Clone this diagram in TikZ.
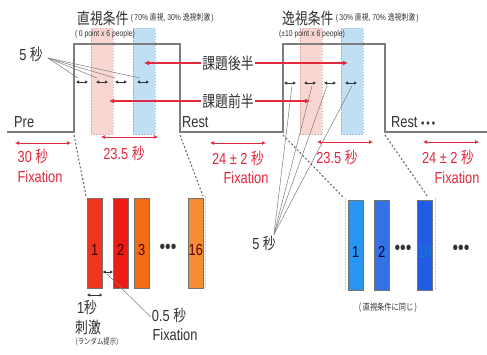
\documentclass[tikz,border=0pt]{standalone}
\usepackage{fontspec}
\setmainfont[FakeStretch=0.8]{Liberation Sans}
\newfontfamily\jp[FakeStretch=0.8]{Noto Sans CJK JP}
\usetikzlibrary{arrows.meta}
\newcommand\byo{{\jp 秒}}
\newcommand\fsz[1]{\fontsize{#1}{#1}\selectfont}
\definecolor{ink}{RGB}{50,50,50}
\definecolor{tlgray}{RGB}{125,125,125}
\definecolor{lblred}{RGB}{226,42,62}
\definecolor{pinkF}{RGB}{249,214,210}
\definecolor{pinkE}{RGB}{215,175,175}
\definecolor{blueF}{RGB}{192,223,245}
\definecolor{blueE}{RGB}{150,185,210}
\definecolor{rA}{RGB}{240,52,30}
\definecolor{rB}{RGB}{236,28,20}
\definecolor{rC}{RGB}{245,108,22}
\definecolor{rD}{RGB}{246,140,52}
\definecolor{bA}{RGB}{40,150,240}
\definecolor{bB}{RGB}{52,112,230}
\definecolor{bC}{RGB}{34,92,228}
\begin{document}
\begin{tikzpicture}[x=1pt,y=-1pt,
  every node/.style={inner sep=1pt,text=ink},
  tline/.style={draw=tlgray,line width=1.2pt},
  strip/.style={line width=0.6pt,dash pattern=on 1.5pt off 1.5pt},
  redarr/.style={color=lblred,line width=1pt,{Latex[length=4pt,width=4pt]}-{Latex[length=4pt,width=4pt]}},
  redlbl/.style={text=lblred,font=\fsz{16}},
  sarr/.style={color=ink,line width=0.7pt,{Latex[length=3pt,width=3.5pt]}-{Latex[length=3pt,width=3.5pt]}},
  fine/.style={draw=tlgray,line width=0.5pt},
  ptr/.style={draw=lblred,fill=lblred,line width=1.2pt,-{Latex[length=5pt,width=5pt]}},
  zoomline/.style={draw=tlgray!80!black,line width=1pt,dash pattern=on 2pt off 2pt},
  grpedge/.style={draw=black!20,line width=0.5pt,dash pattern=on 1.5pt off 1.5pt},
  bar/.style={draw=black!55,line width=0.5pt,minimum width=15pt,minimum height=90pt,inner sep=0pt,anchor=north west},
  num/.style={font=\fsz{16}}]
\useasboundingbox[fill=white] (0,0) rectangle (487,354);

% shaded task halves inside both condition blocks
\filldraw[strip,fill=pinkF,draw=pinkE] (91,28) rectangle (113,134);
\filldraw[strip,fill=blueF,draw=blueE] (133,28) rectangle (155,134);
\filldraw[strip,fill=pinkF,draw=pinkE] (300,28) rectangle (322,134);
\filldraw[strip,fill=blueF,draw=blueE] (341,28) rectangle (363,134);

% block timeline
\draw[tline] (7,132) -- (74,132) -- (74,44) -- (180,44) -- (180,132)
  -- (283,132) -- (283,44) -- (385,44) -- (385,132) -- (487,132);

% condition titles
\node[anchor=west,font=\jp\fsz{16}] (t1) at (76,18) {直視条件};
\node[anchor=west,font=\fsz{8.5}] (t1s) at (t1.east) {(\,70\% {\jp 直視}, 30\% {\jp 逸視刺激}\,)};
\node[anchor=west,font=\fsz{8.5}] (p1) at (74,34) {(\,0 point x 6 people)};
\node[anchor=west,font=\jp\fsz{16}] (t2) at (281,18) {逸視条件};
\node[anchor=west,font=\fsz{8.5}] (t2s) at (t2.east) {(\,30\% {\jp 直視}, 70\% {\jp 逸視刺激}\,)};
\node[anchor=west,font=\fsz{8.5}] (p2) at (278,34) {(±10 point x 6 people)};

% phase names
\node[anchor=west,font=\fsz{16}] (pre) at (13,122) {Pre};
\node[anchor=west,font=\fsz{16}] (rest1) at (181,122) {Rest};
\node[anchor=west,font=\fsz{16}] (rest2) at (390,122) {Rest {\fsz{12}\textbullet\,\textbullet\,\textbullet}};

% 5 s trial arrows
\foreach \i/\x in {1/82,2/102,3/121,4/143}{
  \coordinate (a\i) at (\x,82);
  \draw[sarr] ([xshift=-6pt]a\i) -- ([xshift=6pt]a\i);}
\foreach \i/\x in {1/290,2/310,3/330,4/351}{
  \coordinate (b\i) at (\x,83);
  \draw[sarr] ([xshift=-6pt]b\i) -- ([xshift=6pt]b\i);}
\node[font=\fsz{16}] (five1) at (31,54) {5 \byo};
\foreach \i/\dx in {1/-4,2/-5,3/-6,4/-3}
  \draw[fine] ([shift={(4,4)}]five1.east) -- ([shift={(\dx,-4)}]a\i);
\node[font=\fsz{16}] (five2) at (264,243) {5 \byo};
\foreach \i/\dx in {1/2,2/2,3/-3,4/1}
  \draw[fine] ([xshift=-3pt]five2.north east) -- ([shift={(\dx,3)}]b\i);

% task half pointers
\node[font=\jp\fsz{16}] (late) at (228,63) {課題後半};
\node[font=\jp\fsz{16}] (early) at (228,101) {課題前半};
\coordinate (lateL) at (144,63);
\coordinate (lateR) at (348,63);
\coordinate (earlyL) at (109,101);
\coordinate (earlyR) at (310,101);
\draw[ptr] (late.west) -- (lateL);
\draw[ptr] (late.east) -- (lateR);
\draw[ptr] (early.west) -- (earlyL);
\draw[ptr] (early.east) -- (earlyR);

% durations
\coordinate (d1a) at (15,143); \coordinate (d1b) at (71,143);
\coordinate (d2a) at (101,137); \coordinate (d2b) at (158,137);
\coordinate (d3a) at (210,143); \coordinate (d3b) at (266,143);
\coordinate (d4a) at (317,142); \coordinate (d4b) at (373,142);
\coordinate (d5a) at (423,142); \coordinate (d5b) at (479,142);
\foreach \k in {1,...,5} \draw[redarr] (d\k a) -- (d\k b);
\node[redlbl] (l1) at (33,156) {30 \byo};
\node[redlbl] (f1) at (40,177) {Fixation};
\node[redlbl] (l2) at (124,153) {23.5 \byo};
\node[redlbl] (l3) at (238,158) {24 ± 2 \byo};
\node[redlbl] (f3) at (246,178) {Fixation};
\node[redlbl] (l4) at (337,157) {23.5 \byo};
\node[redlbl] (l5) at (448,157) {24 ± 2 \byo};
\node[redlbl] (f5) at (457,178) {Fixation};

% expansion lines to trial sequences
\draw[zoomline] (74,135) -- (86,196);
\draw[zoomline] (180,135) -- (203,196);
\draw[zoomline] (283,135) -- (343,197);
\draw[zoomline] (385,135) -- (428,197);

% trial sequence: direct gaze block
\draw[grpedge] (205,196) -- (205,290);
\node[bar,fill=rA,label={[num,text=black!75!red,yshift=-7pt]center:1}] (r1) at (87,198) {};
\node[bar,fill=rB,label={[num,text=black!75!red,yshift=-7pt]center:2}] (r2) at (113,198) {};
\node[bar,fill=rC,label={[num,text=black!70!red,yshift=-7pt]center:3}] (r3) at (134,198) {};
\node[bar,fill=rD,label={[num,text=black!65!red,yshift=-7pt]center:16}] (r16) at (188,198) {};
\node[font=\fsz{20}] (rdots) at (168,249) {\textbullet\textbullet\textbullet};

% stimulus and fixation durations
\draw[sarr] (r1.east |- 0,272) -- (r2.west |- 0,272);
\coordinate (gap) at (107,274);
\draw[sarr] (r1.south west |- 0,295) -- (r1.south east |- 0,295);
\node[font=\fsz{16}] (one) at (87,307) {1\byo};
\node[font=\jp\fsz{16}] (stim) at (88,327) {刺激};
\node[font=\jp\fsz{8}] (rand) at (97,342) {(ランダム提示)};
\node[font=\fsz{16}] (half) at (169,315) {0.5 \byo};
\node[font=\fsz{16}] (fx) at (175,335) {Fixation};
\draw[fine] (gap) -- ([yshift=-2pt]half.west);

% trial sequence: averted gaze block
\draw[grpedge] (345,198) -- (345,291);
\draw[grpedge] (435,198) -- (435,291);
\node[bar,fill=bA,label={[num,text=black!80!blue,yshift=-7pt]center:1}] (u1) at (348,200) {};
\node[bar,fill=bB,label={[num,text=black!80!blue,yshift=-7pt]center:2}] (u2) at (374,200) {};
\node[bar,fill=bC,label={[num,text=cyan!60!blue,yshift=-7pt]center:16}] (u16) at (417,200) {};
\node[font=\fsz{20}] (udots) at (403,250) {\textbullet\textbullet\textbullet};
\node[font=\fsz{20}] (udots2) at (461,250) {\textbullet\textbullet\textbullet};
\node[font=\jp\fsz{9}] (same) at (388,308) {(\,直視条件に同じ\,)};
\end{tikzpicture}
\end{document}
